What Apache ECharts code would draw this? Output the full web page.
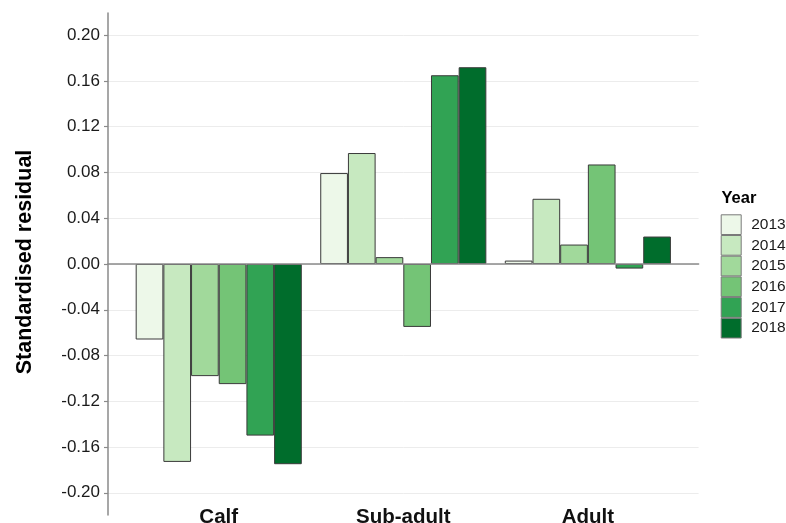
<!DOCTYPE html>
<html>
<head>
<meta charset="utf-8">
<script src="https://cdn.jsdelivr.net/npm/echarts@6/dist/echarts.min.js"></script>
<style>
  html, body { margin: 0; padding: 0; background: #ffffff; }
  #chart { width: 786px; height: 523px; }
</style>
</head>
<body>
<div id="chart"></div>
<script>
// Age classes on the x axis
const categories = ['Calf', 'Sub-adult', 'Adult'];

// Survey years (one bar series each)
const years = ['2013', '2014', '2015', '2016', '2017', '2018'];

// Standardised residual per age class, one array per year
const res2013 = [-0.066, 0.0795, 0.003];
const res2014 = [-0.173, 0.097, 0.057];
const res2015 = [-0.098, 0.006, 0.017];
const res2016 = [-0.105, -0.055, 0.087];
const res2017 = [-0.150, 0.165, -0.004];
const res2018 = [-0.175, 0.172, 0.024];

// Tick positions and labels of the y axis
const yTicks = [-0.20, -0.16, -0.12, -0.08, -0.04, 0.00, 0.04, 0.08, 0.12, 0.16, 0.20];

const palette = ['#edf8e9', '#c7e9c0', '#a1d99b', '#74c476', '#31a354', '#006d2c'];
const seriesValues = [res2013, res2014, res2015, res2016, res2017, res2018];

// Panel limits (a little past the outer ticks)
const yMin = -0.2194, yMax = 0.2194;

// Panel geometry: the discrete axis is padded by 0.6 of a band on each side,
// so the bars live in an inner grid inset by 0.1 band from the panel.
const panelLeft = 108, panelWidth = 590.6, panelTop = 13, panelBottom = 8;
const band = panelWidth / 3.2;
const inset = band * 0.1;

const axisGrey = '#8a8a8a';
const textDark = '#1a1a1a';

const chart = echarts.init(document.getElementById('chart'));

const option = {
  backgroundColor: '#ffffff',
  animation: false,
  grid: [
    { left: panelLeft, width: panelWidth, top: panelTop, bottom: panelBottom, outerBoundsMode: 'none' },
    { left: panelLeft + inset, width: panelWidth - 2 * inset, top: panelTop, bottom: panelBottom, outerBoundsMode: 'none' }
  ],
  xAxis: [
    {
      // Horizontal reference line at zero
      gridIndex: 0, type: 'value', min: 0, max: 1, z: 5,
      axisLine: { show: true, onZero: true, lineStyle: { color: axisGrey, width: 1.5 } },
      axisTick: { show: false }, axisLabel: { show: false }, splitLine: { show: false }
    },
    {
      gridIndex: 1, type: 'category', data: categories,
      axisLine: { show: false }, axisTick: { show: false }, splitLine: { show: false },
      axisLabel: {
        margin: -8,
        color: '#111111',
        fontFamily: 'Liberation Sans, Arial, sans-serif',
        fontWeight: 'bold',
        fontSize: 20.5
      }
    }
  ],
  yAxis: [
    {
      gridIndex: 0, type: 'value', min: yMin, max: yMax,
      axisLine: { show: true, lineStyle: { color: axisGrey, width: 1.5 } },
      axisTick: { show: true, length: 4, customValues: yTicks, lineStyle: { color: axisGrey, width: 1.2 } },
      axisLabel: {
        customValues: yTicks,
        margin: 8,
        color: textDark,
        fontFamily: 'Liberation Sans, Arial, sans-serif',
        fontSize: 17,
        formatter: v => v.toFixed(2)
      },
      splitLine: { show: true, lineStyle: { color: '#ececec', width: 1 } }
    },
    {
      gridIndex: 1, type: 'value', min: yMin, max: yMax,
      axisLine: { show: false }, axisTick: { show: false },
      axisLabel: { show: false }, splitLine: { show: false }
    }
  ],
  legend: {
    orient: 'vertical',
    left: 720.7,
    top: 214.3,
    padding: 0,
    itemWidth: 20,
    itemHeight: 19.7,
    itemGap: 0,
    icon: 'rect',
    selectedMode: false,
    itemStyle: { borderColor: '#7a7a7a', borderWidth: 1 },
    textStyle: {
      color: textDark,
      fontFamily: 'Liberation Sans, Arial, sans-serif',
      fontSize: 15.5,
      padding: [0, 0, 0, 5]
    },
    data: years
  },
  graphic: [
    {
      type: 'text',
      x: 25, y: 262,
      rotation: Math.PI / 2,
      style: {
        text: 'Standardised residual',
        fill: '#000000',
        font: 'bold 21.5px "Liberation Sans", Arial, sans-serif',
        align: 'center',
        verticalAlign: 'middle'
      }
    },
    {
      type: 'text',
      x: 721.5, y: 198.4,
      style: {
        text: 'Year',
        fill: '#000000',
        font: 'bold 16.5px "Liberation Sans", Arial, sans-serif',
        align: 'left',
        verticalAlign: 'middle'
      }
    }
  ],
  series: years.map((yr, i) => ({
    name: yr,
    type: 'bar',
    xAxisIndex: 1,
    yAxisIndex: 1,
    data: seriesValues[i],
    barGap: '0%',
    barCategoryGap: '10%',
    itemStyle: { color: palette[i], borderColor: '#3a3a3a', borderWidth: 1 }
  }))
};

chart.setOption(option);
</script>
</body>
</html>
